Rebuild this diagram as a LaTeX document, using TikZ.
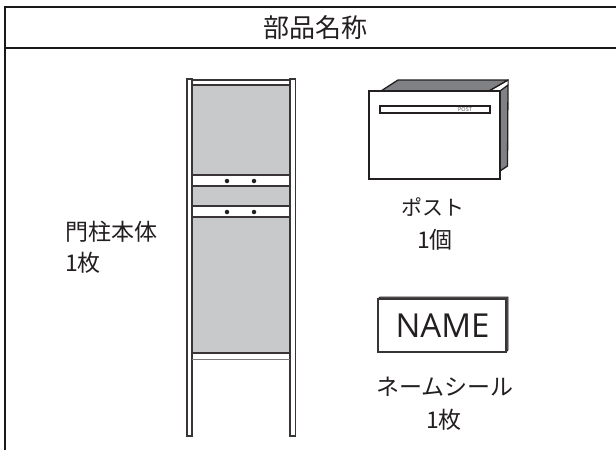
\documentclass[tikz,border=0pt]{standalone}
\usepackage{fontspec}
\setmainfont{Noto Sans CJK JP}
\newfontfamily\latinface{Open Sans}
\definecolor{panelgray}{RGB}{200,201,203}
\definecolor{sidegray}{RGB}{128,129,132}
\definecolor{inkdark}{RGB}{35,31,32}
\tikzset{
  lbl/.style={inner sep=0pt,text=inkdark,font=\fontsize{23}{26}\selectfont},
  lblleft/.style={lbl,anchor=west},
  frameline/.style={draw=black!90,line width=2.4pt},
  post/.style={draw=inkdark!90,line width=1.5pt,line join=miter},
  thinpost/.style={draw=inkdark!85,line width=1.2pt},
  screw/.style={circle,fill=inkdark,inner sep=0pt,minimum size=4.5pt},
}
\begin{document}
\begin{tikzpicture}[x=1pt,y=-1pt]
\useasboundingbox (0,0) rectangle (616,450);
\fill[white] (0,0) rectangle (616,450);
% frame
\coordinate (fbl) at (5.2,450);
\coordinate (ftl) at (5.2,7);
\coordinate (ftr) at (616,7);
\coordinate (hl) at (5.2,48);
\coordinate (hr) at (616,48);
\draw[frameline] (fbl) -- (ftl) -- (ftr);
\draw[frameline] (hl) -- (hr);
\node[lbl,font=\fontsize{26}{30}\selectfont] (title) at (315.5,27.5) {部品名称};
% panels
\fill[panelgray] (192,85) rectangle (290,175);
\fill[panelgray] (192,186) rectangle (290,206);
\fill[panelgray] (192,217) rectangle (290,353);
% pillars
\draw[post] (187,436) -- (187,79) -- (192,79) -- (192,436) -- cycle;
\draw[post] (290,436) -- (290,79) -- (295.5,79) -- (295.5,436) -- cycle;
\foreach \yy in {80,85,175,186,206,217,353} {\draw[post] (192,\yy) -- (290,\yy);}
\draw[thinpost,draw=inkdark!60] (192,359.5) -- (290,359.5);
\node[screw] (s1) at (227,181) {};
\node[screw] (s2) at (254,181) {};
\node[screw] (s3) at (227,212) {};
\node[screw] (s4) at (254,212) {};
% mailbox
\filldraw[fill=sidegray,draw=inkdark,line width=1.3pt,line join=round] (381,91) -- (398,80) -- (508,80) -- (489,91) -- cycle;
\filldraw[fill=sidegray,draw=inkdark,line width=1.3pt,line join=round] (500,91) -- (508,85) -- (507.5,166) -- (500,171) -- cycle;
\draw[inkdark,line width=1pt] (489,91) -- (508,80) -- (508,85);
\filldraw[fill=white,draw=inkdark,line width=1.3pt] (369,91) rectangle (500,179);
\filldraw[fill=white,draw=inkdark,line width=1.5pt] (380,106) rectangle (490,113);
\node[inner sep=0pt,text=inkdark!80,font=\latinface\fontsize{5.5}{6}\selectfont] (posttxt) at (465,109.5) {POST};
\node[lbl,font=\fontsize{21}{26}\selectfont] (l1) at (433,207) {ポスト};
\node[lbl] (l2) at (435,240) {1個};
% name plate
\filldraw[fill=inkdark!70,draw=inkdark,line width=.8pt,line join=round] (378,299) -- (380,297) -- (508,297) -- (508,350) -- (506,352) -- cycle;
\filldraw[fill=white,draw=inkdark!90,line width=1.2pt] (378,299) rectangle (506,352);
\node[inner sep=0pt,text=inkdark,font=\latinface\fontsize{33}{36}\selectfont] (nm) at (442.5,326) {NAME};
\node[lbl] (l3) at (445,387) {ネームシール};
\node[lbl] (l4) at (444,420) {1枚};
\node[lblleft] (l5) at (65,232) {門柱本体};
\node[lblleft] (l6) at (65,263) {1枚};
\end{tikzpicture}
\end{document}
